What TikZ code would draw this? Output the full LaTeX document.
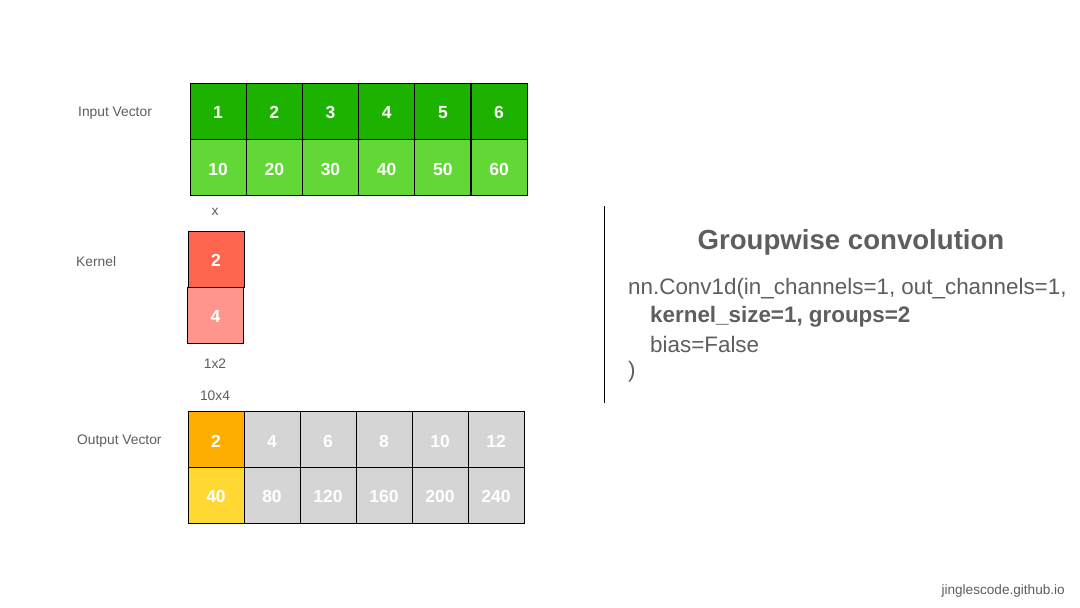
\documentclass[tikz,border=0pt]{standalone}
\usepackage{fontspec}
\setmainfont{Liberation Sans}
\definecolor{ingreen}{HTML}{1DB100}
\definecolor{inlight}{HTML}{61D836}
\definecolor{kred}{HTML}{FF644E}
\definecolor{kpink}{HTML}{FF968D}
\definecolor{outorange}{HTML}{FEAE00}
\definecolor{outyellow}{HTML}{FFD932}
\definecolor{outgray}{HTML}{D5D5D5}
\definecolor{textgray}{HTML}{5E5E5E}

\begin{document}
\begin{tikzpicture}[x=1pt,y=-1pt,
    cell/.style={draw=black, line width=0.9pt, minimum width=56pt,
      minimum height=56pt, inner sep=0pt, text=white,
      text height=15.6pt, text depth=0pt,
      font=\fontsize{17.5}{20}\selectfont\bfseries},
    sidetext/.style={text=textgray, inner sep=0pt,
      font=\fontsize{13.8}{16}\selectfont},
    codeline/.style={anchor=west, text=textgray, inner sep=0pt,
      font=\fontsize{22.4}{26}\selectfont}]
    \useasboundingbox[fill=white] (0,0) rectangle (1080,608);

    % input vector
    \node[sidetext, anchor=west] (inlabel) at (78,113.5) {Input Vector};
    \foreach \a/\b [count=\i from 0] in {1/10,2/20,3/30,4/40,5/50,6/60} {
      \node[cell, fill=ingreen] (in\i a) at (218.1+56.2*\i,111) {\a};
      \node[cell, fill=inlight] (in\i b) at (218.1+56.2*\i,167.5) {\b};
    }
    \node[sidetext] (times) at (215,211.5) {x};

    % kernel
    \node[sidetext, anchor=west] (klabel) at (76,261.5) {Kernel};
    \node[cell, fill=kred] (k1) at (216,259) {2};
    \node[cell, fill=kpink] (k2) at (215.5,315) {4};
    \node[sidetext] (ksize) at (215,363.5) {1x2};
    \node[sidetext] (osize) at (215,395.5) {10x4};

    % output vector
    \node[sidetext, anchor=west] (outlabel) at (77,441.5) {Output Vector};
    \node[cell, fill=outorange] (out0a) at (216,439.5) {2};
    \node[cell, fill=outyellow] (out0b) at (216,495) {40};
    \foreach \a/\b [count=\i from 1] in {4/80,6/120,8/160,10/200,12/240} {
      \node[cell, fill=outgray] (out\i a) at (216+56*\i,439.5) {\a};
      \node[cell, fill=outgray] (out\i b) at (216+56*\i,495) {\b};
    }

    % separator and code
    \coordinate (septop) at (604,206);
    \coordinate (sepbot) at (604,403);
    \draw[line width=0.9pt] (septop) -- (sepbot);
    \node[text=textgray, font=\fontsize{27.6}{32}\selectfont\bfseries] (title)
      at (851,242.5) {Groupwise convolution};
    \node[codeline] (code1) at (628,289) {nn.Conv1d(in\_channels=1, out\_channels=1,};
    \node[codeline, font=\fontsize{22.4}{26}\selectfont\bfseries] (code2)
      at (650,317) {kernel\_size=1, groups=2};
    \node[codeline] (code3) at (650,344) {bias=False};
    \node[codeline] (code4) at (628,372) {)};

    \node[sidetext, anchor=east, font=\fontsize{13.6}{16}\selectfont] (site)
      at (1065,591) {jinglescode.github.io};
\end{tikzpicture}
\end{document}
